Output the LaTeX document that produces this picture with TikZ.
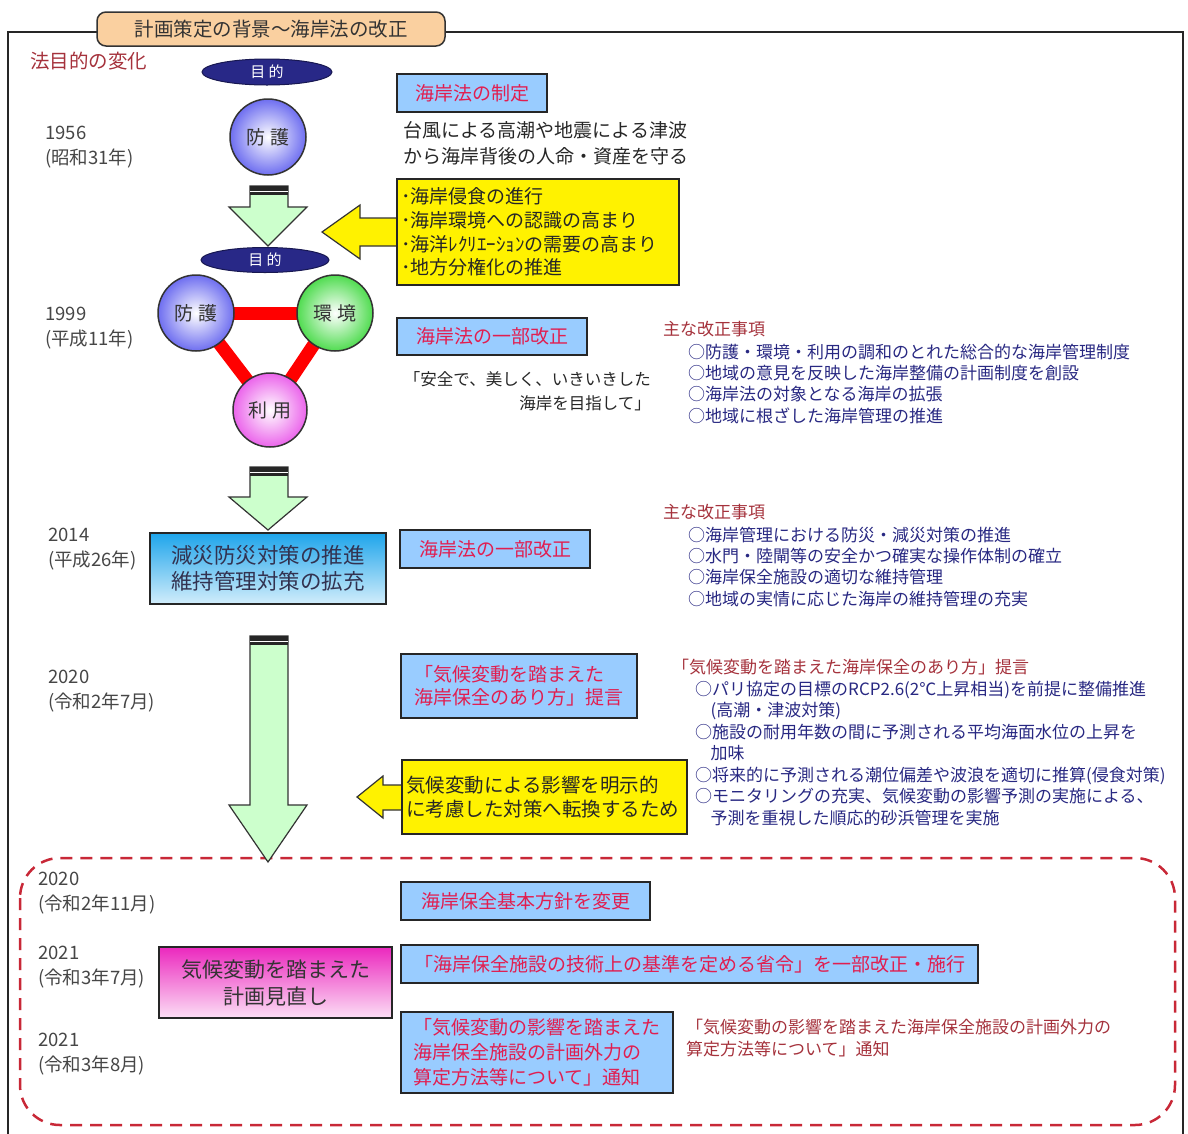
\documentclass[tikz,border=0pt]{standalone}
\usepackage{fontspec}
\setmainfont{Noto Sans CJK JP}
\usetikzlibrary{positioning,shapes.geometric,backgrounds}

\definecolor{boxred}{RGB}{225,30,80}
\definecolor{headred}{RGB}{165,50,60}
\definecolor{listblue}{RGB}{40,40,130}
\definecolor{yeargray}{RGB}{70,70,70}
\definecolor{boxblue}{RGB}{153,204,255}
\definecolor{goalnavy}{RGB}{40,40,135}
\definecolor{tabfill}{RGB}{250,208,160}
\definecolor{arrowgreen}{RGB}{204,255,204}
\definecolor{dashred}{RGB}{200,40,55}
\definecolor{measblue}{RGB}{30,165,235}
\definecolor{reviewpink}{RGB}{235,40,190}

\begin{document}
\begin{tikzpicture}[
    x=1pt, y=-1pt,
    frame/.style={draw=black!85, line width=1.6pt},
    tab/.style={draw=black!80, line width=1.5pt, fill=tabfill, rounded corners=9pt, minimum width=348pt, minimum height=34pt, font=\fontsize{19.5}{19.5}\selectfont, text=black!80},
    year/.style={font=\fontsize{18.5}{24.5}\selectfont, text=yeargray, align=left, anchor=north west, inner sep=0pt},
    note/.style={font=\fontsize{19}{26}\selectfont, text=black!85, align=left, anchor=north west, inner sep=0pt},
    head/.style={font=\fontsize{17}{17}\selectfont, text=headred, anchor=north west, inner sep=0pt},
    items/.style={font=\fontsize{17}{21.4}\selectfont, text=listblue, align=left, anchor=north west, inner sep=0pt},
    bluebox/.style={draw=black!85, line width=1.5pt, fill=boxblue, text=boxred, align=left, inner sep=2pt, font=\fontsize{19}{23.5}\selectfont},
    yellowbox/.style={draw=black!85, line width=1.5pt, fill=yellow, text=black!85, align=left, inner ysep=2pt, inner xsep=4pt},
    goal/.style={ellipse, fill=goalnavy, draw=goalnavy!60!black, line width=1pt, text=white, inner sep=0pt, font=\fontsize{15}{15}\selectfont},
    ball/.style={circle, draw=black!80, line width=1.5pt, minimum size=76pt, inner sep=0pt, shading=radial, inner color=white, font=\fontsize{19}{19}\selectfont, text=black!80},
    link/.style={red, line width=13pt},
    greenarrow/.style={fill=arrowgreen, draw=black!80, line width=1.2pt},
    yellowarrow/.style={fill=yellow, draw=black!80, line width=1.2pt},
    dashbox/.style={draw=dashred, line width=2.5pt, dash pattern=on 12pt off 8pt, rounded corners=40pt}
]
\useasboundingbox (0,0) rectangle (1188,1133);

\draw[frame] (97,32) -| (8,1140);
\draw[frame] (445,32) -| (1183,1140);
\node[tab] (title) at (271,29) {計画策定の背景～海岸法の改正};
\node[head, font=\fontsize{19.5}{19.5}\selectfont] (lawgoal) at (30,52) {法目的の変化};

% 1956
\node[year] (y1956) at (45,126) {1956\\(昭和31年)};
\node[goal, minimum width=130pt, minimum height=26pt] (goal1) at (267,72) {目 的};
\node[ball, outer color={rgb,255:red,110;green,110;blue,240}] (guard1) at (268,137) {防 護};
\node[bluebox, minimum width=150pt, minimum height=38pt] (law1956) at (472,93) {海岸法の制定};
\node[note] (aim1956) at (403,121.5) {台風による高潮や地震による津波\\から海岸背後の人命・資産を守る};

% 1999
\draw[yellowarrow] (400,218) -- (360,218) -- (360,205) -- (322,232) -- (360,259) -- (360,246) -- (400,246);
\node[yellowbox, text width=274pt, minimum height=106pt, font=\fontsize{19}{23.7}\selectfont] (factors) at (538,232)
    {･海岸侵食の進行\\･海岸環境への認識の高まり\\･海洋ﾚｸﾘｴｰｼｮﾝの需要の高まり\\･地方分権化の推進};
\node[goal, minimum width=128pt, minimum height=25pt] (goal2) at (265,260) {目 的};
\node[year] (y1999) at (45,307) {1999\\(平成11年)};
\node[ball, outer color={rgb,255:red,110;green,110;blue,240}] (guard2) at (196,313) {防 護};
\node[ball, outer color={rgb,255:red,80;green,220;blue,80}] (env) at (335,313) {環 境};
\node[ball, minimum size=74pt, outer color={rgb,255:red,235;green,100;blue,235}] (use) at (270,410) {利 用};
\begin{pgfonlayer}{background}
\draw[link] (guard2.center) -- (env.center);
\draw[link] (guard2.center) -- (use.center);
\draw[link] (env.center) -- (use.center);
\end{pgfonlayer}
\node[bluebox, minimum width=190pt, minimum height=37pt] (law1999) at (492,336.5) {海岸法の一部改正};
\node[font=\fontsize{16.5}{24}\selectfont, text=black!85, align=right, anchor=north east, inner sep=0pt] (motto) at (651,371.5)
    {「安全で、美しく、いきいきした\\海岸を目指して」};
\node[head] (head1999) at (663,321.5) {主な改正事項};
\node[items] (items1999) at (688,343.5)
    {○防護・環境・利用の調和のとれた総合的な海岸管理制度\\
     ○地域の意見を反映した海岸整備の計画制度を創設\\
     ○海岸法の対象となる海岸の拡張\\
     ○地域に根ざした海岸管理の推進};

% 2014
\node[year] (y2014) at (48,528) {2014\\(平成26年)};
\node[draw=black!85, line width=1.5pt, top color=measblue, bottom color=white!80!measblue, minimum width=236pt, minimum height=71pt,
      font=\fontsize{21.5}{26}\selectfont, text={rgb,255:red,50;green,50;blue,80}, align=center] (measures) at (268,568.5)
    {減災防災対策の推進\\維持管理対策の拡充};
\node[bluebox, minimum width=190pt, minimum height=38pt] (law2014) at (495,549) {海岸法の一部改正};
\node[head] (head2014) at (663,504.5) {主な改正事項};
\node[items] (items2014) at (688,526.5)
    {○海岸管理における防災・減災対策の推進\\
     ○水門・陸閘等の安全かつ確実な操作体制の確立\\
     ○海岸保全施設の適切な維持管理\\
     ○地域の実情に応じた海岸の維持管理の充実};

% 2020
\node[year] (y2020a) at (48,670) {2020\\(令和2年7月)};
\node[bluebox, minimum width=236pt, minimum height=64pt] (proposal) at (519,686) {「気候変動を踏まえた\\海岸保全のあり方」提言};
\node[head] (head2020) at (672,658.5) {「気候変動を踏まえた海岸保全のあり方」提言};
\node[items, font=\fontsize{17}{21.5}\selectfont] (items2020) at (695,680.5)
    {○パリ協定の目標のRCP2.6(2℃上昇相当)を前提に整備推進\\
     \hspace*{0.9em}(高潮・津波対策)\\
     ○施設の耐用年数の間に予測される平均海面水位の上昇を\\
     \hspace*{0.9em}加味\\
     ○将来的に予測される潮位偏差や波浪を適切に推算(侵食対策)\\
     ○モニタリングの充実、気候変動の影響予測の実施による、\\
     \hspace*{0.9em}予測を重視した順応的砂浜管理を実施};
\draw[yellowarrow] (405,785) -- (383,785) -- (383,776) -- (357,797) -- (383,818) -- (383,810) -- (405,810);
\node[yellowbox, text width=277pt, minimum height=74pt, font=\fontsize{19.5}{24}\selectfont] (reason) at (544.5,797)
    {気候変動による影響を明示的\\に考慮した対策へ転換するため};

% 2020-2021
\draw[dashbox] (20,858) rectangle (1175,1125);
\node[year] (y2020b) at (38,872) {2020\\(令和2年11月)};
\node[year] (y2021a) at (38,946) {2021\\(令和3年7月)};
\node[year] (y2021b) at (38,1033) {2021\\(令和3年8月)};
\node[draw=black!85, line width=1.5pt, top color=reviewpink, bottom color=white!85!reviewpink, minimum width=233pt, minimum height=71pt,
      font=\fontsize{21}{27}\selectfont, text=black!80, align=center] (review) at (275.5,982.5)
    {気候変動を踏まえた\\計画見直し};
\node[bluebox, minimum width=249pt, minimum height=38pt] (policy) at (525.5,901) {海岸保全基本方針を変更};
\node[bluebox, minimum width=577pt, minimum height=38pt] (ordinance) at (689.5,964) {「海岸保全施設の技術上の基準を定める省令」を一部改正・施行};
\node[bluebox, minimum width=272pt, minimum height=81pt, font=\fontsize{19}{25}\selectfont] (notice) at (537,1052.5)
    {「気候変動の影響を踏まえた\\海岸保全施設の計画外力の\\算定方法等について」通知};
\node[head, font=\fontsize{17}{22}\selectfont, align=left] (noticenote) at (686,1018.5)
    {「気候変動の影響を踏まえた海岸保全施設の計画外力の\\算定方法等について」通知};

% stage arrows
\foreach \ya/\yb/\yc in {186/207/246, 467/497/530, 636/805/862}{
  \draw[greenarrow] (250,\ya) -- (288,\ya) -- (288,\yb) -- (307,\yb) -- (268,\yc) -- (229,\yb) -- (250,\yb) -- cycle;
  \fill[black!85] (250,\ya) rectangle (288,{\ya+9});
  \draw[white, line width=1.5pt] (250,{\ya+5.5}) -- (288,{\ya+5.5});
}
\end{tikzpicture}
\end{document}
